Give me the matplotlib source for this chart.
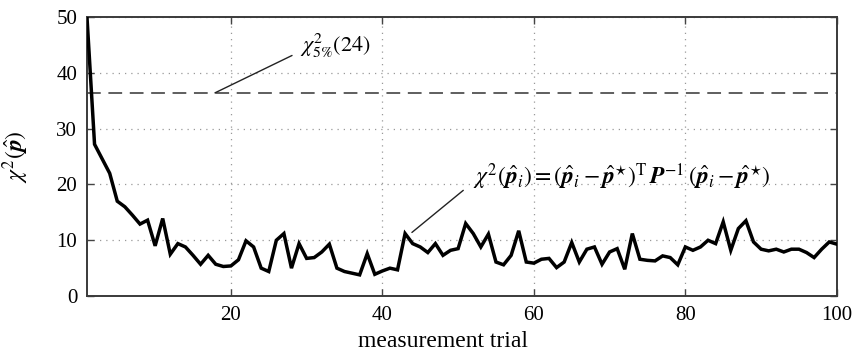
import matplotlib
matplotlib.use("Agg")
import matplotlib.pyplot as plt

trials = list(range(1, 101))
chi2_values = [
    50.0, 27.2, 24.6, 22.0, 17.0, 16.0, 14.5, 12.9, 13.6, 9.0,
    13.9, 7.5, 9.4, 8.8, 7.3, 5.7, 7.3, 5.7, 5.3, 5.4,
    6.5, 9.9, 8.8, 5.0, 4.4, 10.0, 11.2, 5.0, 9.4, 6.75,
    6.9, 7.9, 9.3, 5.0, 4.4, 4.1, 3.8, 7.6, 3.9, 4.5,
    5.0, 4.7, 11.2, 9.4, 8.8, 7.8, 9.4, 7.3, 8.2, 8.5,
    13.0, 11.2, 8.8, 11.1, 6.1, 5.6, 7.3, 11.7, 6.1, 5.9,
    6.6, 6.75, 5.1, 6.1, 9.6, 6.1, 8.4, 8.8, 5.7, 7.9,
    8.5, 4.8, 11.2, 6.6, 6.4, 6.3, 7.2, 6.9, 5.6, 8.8,
    8.2, 8.8, 10.0, 9.4, 13.3, 8.2, 12.1, 13.5, 9.7, 8.4,
    8.1, 8.4, 7.9, 8.4, 8.4, 7.8, 6.9, 8.4, 9.7, 9.3,
]
chi2_threshold = 36.415  # chi^2_{5%}(24)

x_ticks = [20, 40, 60, 80, 100]
y_ticks = [0, 10, 20, 30, 40, 50]

plt.rcParams["font.family"] = ["Liberation Serif", "DejaVu Serif"]
plt.rcParams["mathtext.fontset"] = "stix"

fig = plt.figure(figsize=(8.56, 3.55), dpi=100)
ax = fig.add_axes([0.1016, 0.166, 0.876, 0.786])

ax.plot(trials, chi2_values, color="black", lw=2.5, solid_joinstyle="miter", zorder=3)
ax.axhline(chi2_threshold, color="#333333", lw=1.1, dashes=(9, 5), zorder=2)

ax.set_xlim(1, 100)
ax.set_ylim(0, 50)
ax.set_xticks(x_ticks)
ax.set_yticks(y_ticks)
ax.tick_params(direction="in", top=True, right=True, labelsize=15,
               length=5, width=1, color="#444444", pad=7)
ax.grid(True, linestyle=(0, (1, 4)), color="#999999", lw=0.9)
for s in ax.spines.values():
    s.set_color("#3a3a3a")
    s.set_linewidth(1.4)

ax.set_xlabel("measurement trial", fontsize=17)
ax.xaxis.set_label_coords(0.475, -0.125)
ax.set_ylabel(r"$\chi^2(\hat{\mathbfit{p}})$", fontsize=17)
ax.yaxis.set_label_coords(-0.074, 0.5)

ax.annotate(r"$\chi^2_{5\%}(24)$", xy=(17.9, chi2_threshold), xytext=(29.1, 44.8),
            fontsize=16, va="center", ha="left",
            arrowprops=dict(arrowstyle="-", color="#222222", lw=1.0,
                            relpos=(0, 0.3), shrinkA=4, shrinkB=0))
ax.annotate(r"$\chi^2(\hat{\mathbfit{p}}_i) = (\hat{\mathbfit{p}}_i - \hat{\mathbfit{p}}^{\star})^{\mathrm{T}}"
            r"\,\mathbfit{P}^{-1}\,(\hat{\mathbfit{p}}_i - \hat{\mathbfit{p}}^{\star})$",
            xy=(43.9, 11.4), xytext=(51.9, 21.4),
            fontsize=17, va="center", ha="left",
            arrowprops=dict(arrowstyle="-", color="#222222", lw=1.0,
                            relpos=(0, 0.3), shrinkA=6, shrinkB=0))

fig.savefig("out.png", dpi=100)
